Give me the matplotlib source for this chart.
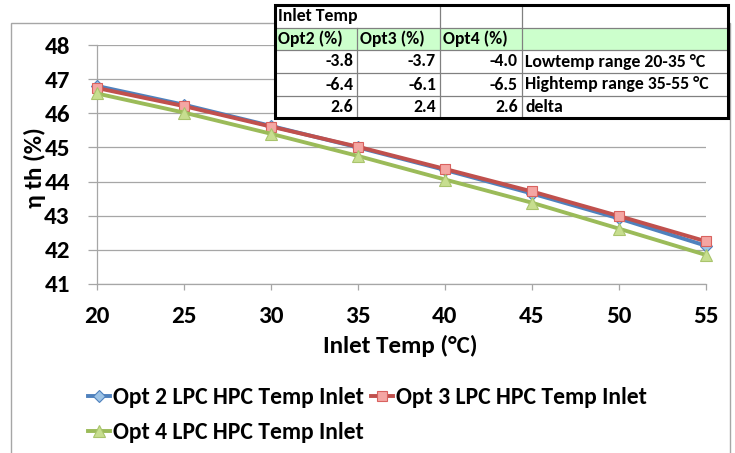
import matplotlib
matplotlib.use("Agg")
import matplotlib.pyplot as plt
from matplotlib.patches import Rectangle
from matplotlib.lines import Line2D

# --- data ---
inlet_temp = [20, 25, 30, 35, 40, 45, 50, 55]
opt2 = [46.80, 46.25, 45.63, 45.00, 44.34, 43.65, 42.92, 42.12]
opt3 = [46.74, 46.21, 45.61, 45.02, 44.37, 43.71, 42.99, 42.25]
opt4 = [46.58, 46.02, 45.40, 44.75, 44.06, 43.38, 42.62, 41.85]
series_names = ["Opt 2 LPC HPC Temp Inlet", "Opt 3 LPC HPC Temp Inlet",
                "Opt 4 LPC HPC Temp Inlet"]
y_ticks = [41, 42, 43, 44, 45, 46, 47, 48]

table_title = "Inlet Temp"
table_headers = ["Opt2 (%)", "Opt3 (%)", "Opt4 (%)", ""]
table_opt2 = [-3.8, -6.4, 2.6]
table_opt3 = [-3.7, -6.1, 2.4]
table_opt4 = [-4.0, -6.5, 2.6]
table_notes = ["Lowtemp range 20-35 °C", "Hightemp range 35-55 °C", "delta"]

W, H = 735, 453
FAM = ["Carlito", "DejaVu Sans"]
AXIS_FS = 18
LEGEND_FS = 17
TABLE_FS = 12.8

fig = plt.figure(figsize=(W / 100, H / 100), dpi=100)
fig.patch.set_facecolor("white")


def fx(px):
    return px / W


def fy(py):
    return 1 - py / H


# outer chart border
fig.add_artist(Rectangle((fx(11), fy(470)), fx(730) - fx(11), fy(23) - fy(470),
                         transform=fig.transFigure, fill=False,
                         edgecolor="#A6A6A6", linewidth=1.0, zorder=0))

ax = fig.add_axes([fx(97), fy(284), fx(706) - fx(97), fy(45) - fy(284)])
ax.set_facecolor("white")

styles = [
    dict(color="#4F81BD", marker="D", mfc="#9DC3E6", mec="#4F81BD", ms=6),
    dict(color="#C0504D", marker="s", mfc="#F4A6A3", mec="#D9625F", ms=7.5),
    dict(color="#9BBB59", marker="^", mfc="#C7DE8F", mec="#A9C46C", ms=8),
]
handles = []
for vals, name, st in zip([opt2, opt3, opt4], series_names, styles):
    h, = ax.plot(inlet_temp, vals, color=st["color"], linewidth=2.8,
                 marker=st["marker"], markerfacecolor=st["mfc"],
                 markeredgecolor=st["mec"], markersize=st["ms"],
                 markeredgewidth=0.8, label=name, zorder=3, clip_on=False)
    handles.append(h)
ax.set_xlim(20, 55)
ax.set_ylim(41, 48)
ax.set_xticks(inlet_temp)
ax.set_yticks(y_ticks)
ax.grid(axis="y", color="#A6A6A6", linewidth=0.9)
ax.grid(axis="x", visible=False)
ax.set_axisbelow(True)
for s in ["top", "right"]:
    ax.spines[s].set_visible(False)
for s in ["left", "bottom"]:
    ax.spines[s].set_color("#A6A6A6")
    ax.spines[s].set_linewidth(0.9)
ax.tick_params(axis="both", colors="#A6A6A6", width=0.9)
ax.tick_params(axis="y", length=6.5, pad=13)
ax.tick_params(axis="x", length=4.5, pad=11)
for lab in ax.get_xticklabels() + ax.get_yticklabels():
    lab.set_fontfamily(FAM)
    lab.set_fontweight("bold")
    lab.set_fontsize(AXIS_FS)
    lab.set_color("black")

fig.text(fx(35), fy(168), "η th (%)", rotation=90, ha="center", va="center",
         fontsize=AXIS_FS, fontweight="bold", fontfamily=FAM)
fig.text(fx(400), fy(346), "Inlet Temp (°C)", ha="center", va="center",
         fontsize=AXIS_FS, fontweight="bold", fontfamily=FAM)

# legend: Opt 2 / Opt 3 on the first row, Opt 4 below
leg = fig.legend([handles[0], handles[2], handles[1]],
                 [series_names[0], series_names[2], series_names[1]],
                 ncol=2, loc="upper left", bbox_to_anchor=(fx(88), fy(387)),
                 frameon=False, handlelength=0.95, handletextpad=0.1,
                 columnspacing=0.3, labelspacing=0.6, borderaxespad=0,
                 borderpad=0, prop=dict(family=FAM, weight="bold", size=LEGEND_FS))

# --- summary table ---
col_x = [275, 357, 440, 522, 728]
row_y = [5, 28, 50, 73, 96, 118]
grid_col = "#808080"

fig.add_artist(Rectangle((fx(col_x[0]), fy(row_y[-1])), fx(col_x[-1]) - fx(col_x[0]),
                         fy(row_y[0]) - fy(row_y[-1]), transform=fig.transFigure,
                         facecolor="white", edgecolor="none", zorder=5))
# green header row
fig.add_artist(Rectangle((fx(col_x[0]), fy(row_y[2])), fx(col_x[-1]) - fx(col_x[0]),
                         fy(row_y[1]) - fy(row_y[2]), transform=fig.transFigure,
                         facecolor="#CCFFCC", edgecolor="none", zorder=5))
for y in row_y[1:-1]:
    fig.add_artist(Line2D([fx(col_x[0]), fx(col_x[-1])], [fy(y), fy(y)],
                          transform=fig.transFigure, color=grid_col, lw=0.9, zorder=6))
# the title cell spans the first two columns
for i, x in enumerate(col_x[1:-1]):
    top = row_y[1] if i == 0 else row_y[0]
    fig.add_artist(Line2D([fx(x), fx(x)], [fy(top), fy(row_y[-1])],
                          transform=fig.transFigure, color=grid_col, lw=0.9, zorder=6))
fig.add_artist(Rectangle((fx(col_x[0]), fy(row_y[-1])), fx(col_x[-1]) - fx(col_x[0]),
                         fy(row_y[0]) - fy(row_y[-1]), transform=fig.transFigure,
                         fill=False, edgecolor="black", linewidth=2.2, zorder=7))

tfont = dict(fontsize=TABLE_FS, fontweight="bold", fontfamily=FAM, zorder=8)


def row_mid(i):
    return fy((row_y[i] + row_y[i + 1]) / 2)


fig.text(fx(col_x[0] + 3), row_mid(0), table_title, ha="left", va="center", **tfont)
for j, hdr in enumerate(table_headers):
    if hdr:
        fig.text(fx(col_x[j] + 3), row_mid(1), hdr, ha="left", va="center", **tfont)
for r in range(3):
    for j, col in enumerate([table_opt2, table_opt3, table_opt4]):
        fig.text(fx(col_x[j + 1] - 4), row_mid(r + 2), f"{col[r]:.1f}",
                 ha="right", va="center", **tfont)
    fig.text(fx(col_x[3] + 3), row_mid(r + 2), table_notes[r],
             ha="left", va="center", **tfont)

fig.savefig("out.png", dpi=100)
